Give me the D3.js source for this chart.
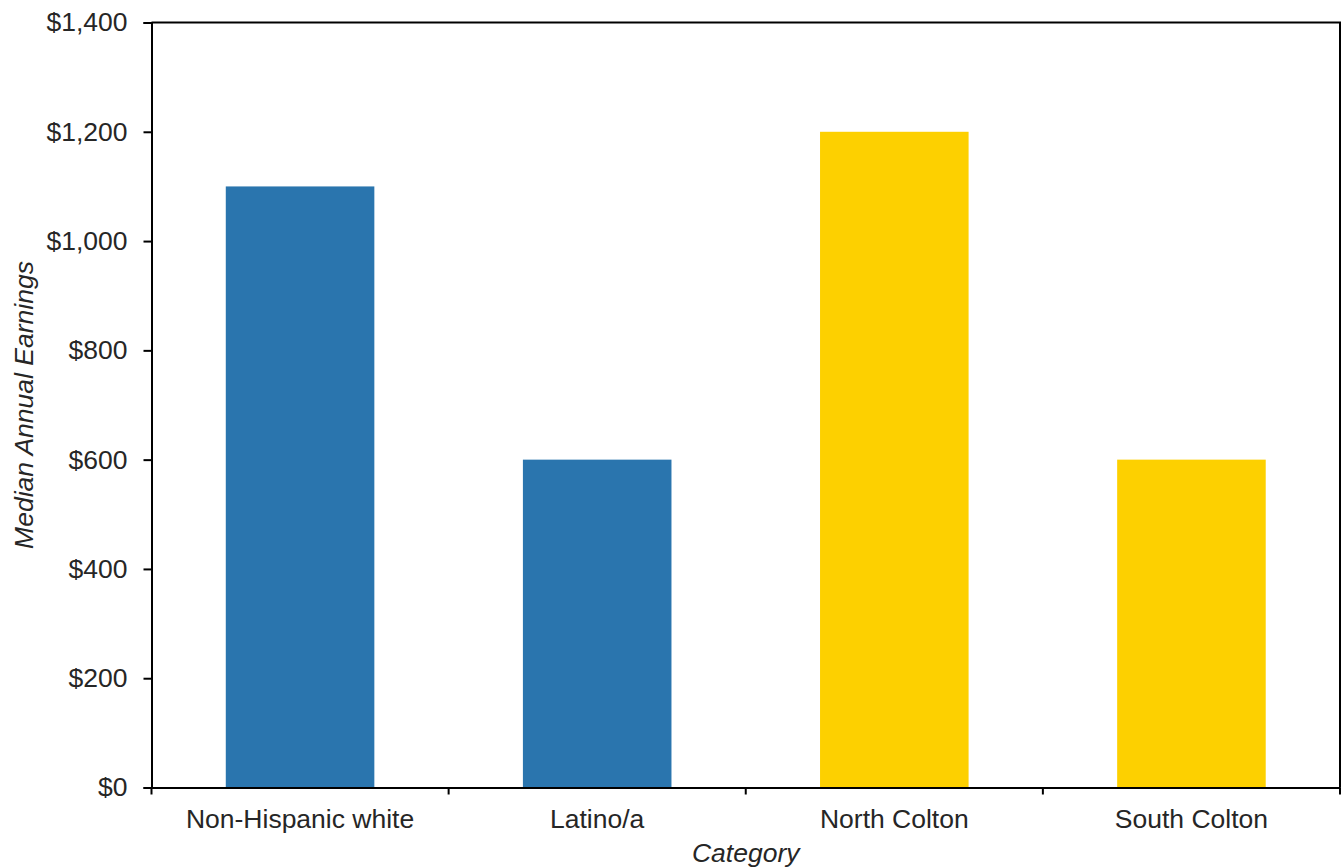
<!DOCTYPE html>
<html>
<head>
<meta charset="utf-8">
<script src="https://cdn.jsdelivr.net/npm/d3@7"></script>
<style>
  html, body { margin: 0; padding: 0; background: #fff; }
  svg { display: block; font-family: "Liberation Sans", Arial, sans-serif; }
</style>
</head>
<body>
<svg id="chart" width="1343" height="867"></svg>
<script>
// Median annual earnings by group
const categories = ["Non-Hispanic white", "Latino/a", "North Colton", "South Colton"];
const values = [1100, 600, 1200, 600];
const barColors = ["#2a75ae", "#2a75ae", "#fdd000", "#fdd000"];
const yTicks = [0, 200, 400, 600, 800, 1000, 1200, 1400];

const svg = d3.select("#chart");
const margin = { top: 22.5, right: 3, bottom: 79.5, left: 151.5 };
const W = 1343, H = 867;
const innerW = W - margin.left - margin.right;
const innerH = H - margin.top - margin.bottom;
const fontSize = "26.5px";
const textColor = "#262626";

const g = svg.append("g").attr("transform", `translate(${margin.left},${margin.top})`);

const x = d3.scaleBand().domain(categories).range([0, innerW]).paddingInner(0.5).paddingOuter(0.25);
const y = d3.scaleLinear().domain([0, 1400]).range([innerH, 0]);

// bars
g.selectAll("rect.bar")
  .data(categories)
  .join("rect")
  .attr("class", "bar")
  .attr("x", d => x(d))
  .attr("width", x.bandwidth())
  .attr("y", (d, i) => y(values[i]))
  .attr("height", (d, i) => innerH - y(values[i]))
  .attr("fill", (d, i) => barColors[i]);

// frame: top and right edges
g.append("path")
  .attr("d", `M0,0H${innerW}V${innerH}`)
  .attr("fill", "none")
  .attr("stroke", "#000")
  .attr("stroke-width", 2);

// y axis
const yAxis = g.append("g")
  .call(d3.axisLeft(y).tickValues(yTicks).tickSize(8).tickPadding(16)
    .tickFormat(d => "$" + d3.format(",")(d)));
yAxis.select(".domain").attr("stroke", "#000").attr("stroke-width", 2);
yAxis.selectAll(".tick line").attr("stroke", "#000").attr("stroke-width", 2);
yAxis.selectAll(".tick text").attr("fill", textColor).style("font-size", fontSize);

// x axis: ticks at category boundaries
const xAxis = g.append("g").attr("transform", `translate(0,${innerH})`)
  .call(d3.axisBottom(x).tickSize(0).tickPadding(22));
xAxis.select(".domain").attr("stroke", "#000").attr("stroke-width", 2);
xAxis.selectAll(".tick text").attr("fill", textColor).style("font-size", fontSize);

const boundaries = d3.range(categories.length + 1).map(i => i * innerW / categories.length);
xAxis.selectAll("line.bound")
  .data(boundaries)
  .join("line")
  .attr("class", "bound")
  .attr("x1", d => d).attr("x2", d => d)
  .attr("y1", 0).attr("y2", 7)
  .attr("stroke", "#000").attr("stroke-width", 2);

// axis titles
svg.append("text")
  .attr("x", margin.left + innerW / 2)
  .attr("y", 862)
  .attr("text-anchor", "middle")
  .style("font-style", "italic")
  .style("font-size", fontSize)
  .attr("fill", textColor)
  .text("Category");

svg.append("text")
  .attr("transform", `translate(33,${margin.top + innerH / 2}) rotate(-90)`)
  .attr("text-anchor", "middle")
  .style("font-style", "italic")
  .style("font-size", fontSize)
  .attr("fill", textColor)
  .text("Median Annual Earnings");
</script>
</body>
</html>
